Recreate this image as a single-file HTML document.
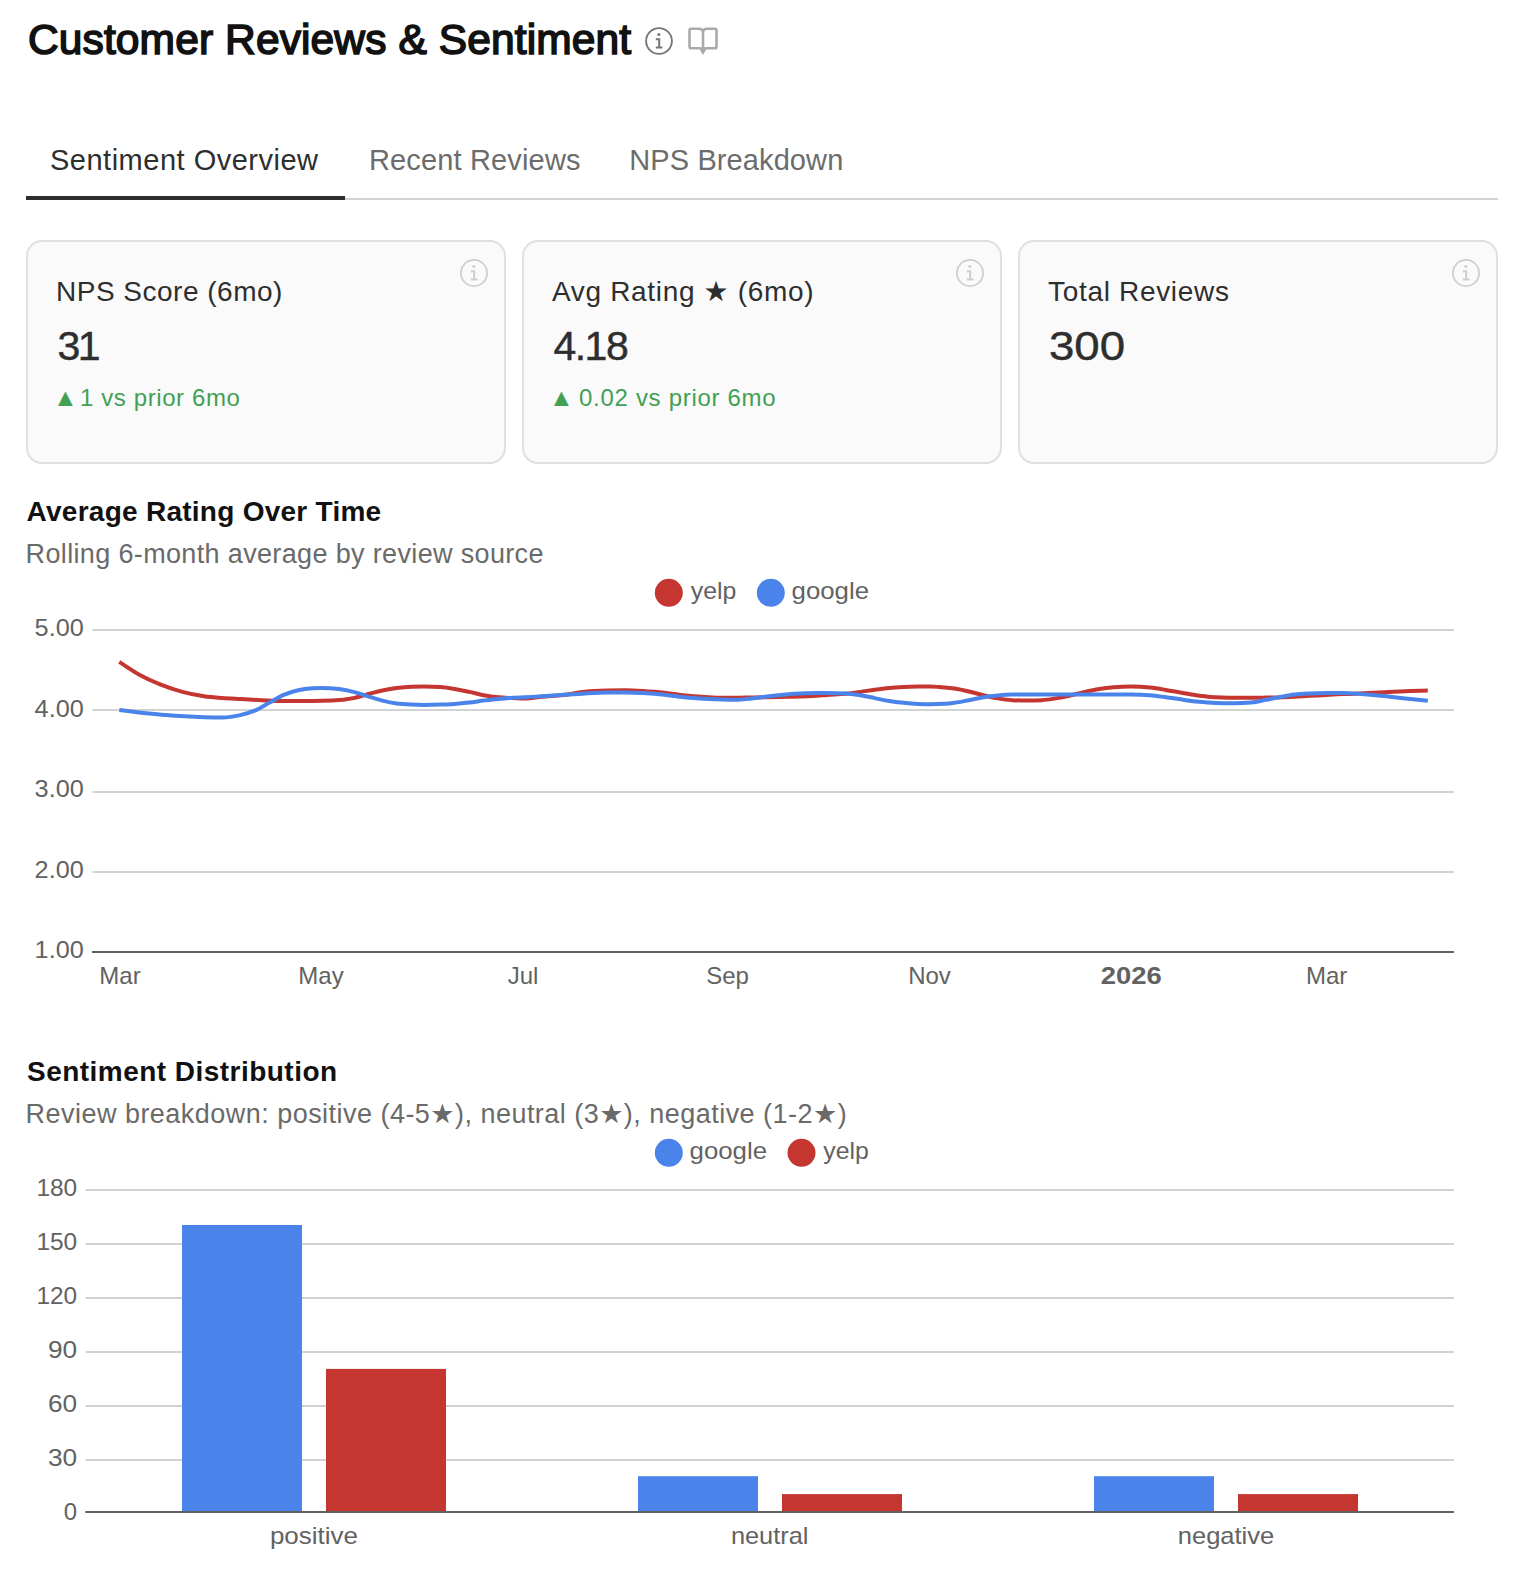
<!DOCTYPE html>
<html lang="en"><head><meta charset="utf-8"><title>Customer Reviews &amp; Sentiment</title>
<style>
html,body{margin:0;padding:0;background:#fff;}
body{width:1520px;height:1572px;position:relative;overflow:hidden;font-family:"Liberation Sans","DejaVu Sans",sans-serif;color:#2e2e2e;}
.abs{position:absolute;}
.t{position:absolute;white-space:nowrap;line-height:1;}
h1{position:absolute;margin:0;left:28px;top:19px;font-size:42.5px;line-height:1;font-weight:400;color:#111;white-space:nowrap;letter-spacing:0.12px;-webkit-text-stroke:1.6px #111;}
.tabs{position:absolute;left:26px;top:120px;width:1472px;height:78px;border-bottom:2px solid #d2d2d2;}
.tab{position:absolute;top:0;height:80px;font-size:29px;line-height:80px;color:#6c6c6c;white-space:nowrap;}
.tab.on{color:#2e2e2e;}
.tabs .ul{position:absolute;left:0;width:319px;top:76px;height:4px;background:#2e2e2e;}
.card{position:absolute;top:240px;width:476px;height:220px;border:2px solid #e0e0e0;border-radius:16px;background:#fafafa;}
.card .lbl{position:absolute;left:28px;top:36px;font-size:28px;line-height:1;white-space:nowrap;color:#2e2e2e;}
.card .val{transform-origin:0 0;-webkit-text-stroke:0.45px #2e2e2e;position:absolute;left:29.4px;top:84px;font-size:41px;line-height:1;white-space:nowrap;color:#2e2e2e;}
.card .delta{position:absolute;left:30px;top:144px;font-size:24px;line-height:1;white-space:nowrap;color:#42a055;}
.card .tri{position:absolute;left:25px;top:143px;font-size:25px;line-height:1;color:#42a055;}
h2{position:absolute;margin:0;left:27px;font-size:28px;line-height:1;font-weight:700;color:#111;white-space:nowrap;}
.sub{position:absolute;left:27px;font-size:27px;line-height:1;color:#6a6a6a;white-space:nowrap;}
text.ax{font-family:"Liberation Sans","DejaVu Sans",sans-serif;font-size:24px;fill:#626262;}
text.b{font-weight:700;}
text.lc{font-size:24px;}
</style></head><body>
<h1>Customer Reviews &amp; Sentiment</h1>
<svg class="abs" style="left:645px;top:27px" width="28" height="28" viewBox="0 0 28 28" fill="none" stroke="#777" stroke-width="1.9"><circle cx="14" cy="14" r="12.9"/><path d="M10.8 12.2h3.4v8.2M10.8 20.4h6.6" stroke-width="2"/><circle cx="13.9" cy="7.6" r="1.5" fill="#777" stroke="none"/></svg>
<svg class="abs" style="left:686px;top:25px" width="34" height="32" viewBox="0 0 34 32" fill="none" stroke="#aaa" stroke-width="2.6" stroke-linejoin="round"><path d="M17 6.400C16.400 4.700 15 3.800 13 3.800H5Q3.500 3.800 3.500 5.300V21.700Q3.500 23.200 5 23.200H13.500C15 23.200 16.400 23.800 17 25.400C17.600 23.800 19 23.200 20.500 23.200H29Q30.500 23.200 30.500 21.700V5.300Q30.500 3.800 29 3.800H21C19 3.800 17.600 4.700 17 6.400ZM17 6.400V25.400"/><path d="M13.700 24.600L17 30L20.300 24.600Z" fill="#aaa" stroke="none"/></svg>
<div class="tabs">
<div class="tab on" style="left:24px;letter-spacing:.5px">Sentiment Overview</div>
<div class="tab" style="left:343px;letter-spacing:.15px">Recent Reviews</div>
<div class="tab" style="left:603.3px;letter-spacing:.1px">NPS Breakdown</div>
<div class="ul"></div>
</div>
<div class="card" style="left:26px"><div class="lbl" style="letter-spacing:0.5px">NPS Score (6mo)</div><div class="val" style="letter-spacing:-2.4px;transform:scaleX(1)">31</div><div class="tri">&#9650;</div><div class="delta" style="letter-spacing:0.6px;left:52px">1 vs prior 6mo</div><svg class="abs" style="left:432px;top:17px" width="28" height="28" viewBox="0 0 28 28" fill="none" stroke="#cdcdcd" stroke-width="1.7"><circle cx="14" cy="14" r="13.1"/><path d="M10.8 12.2h3.4v8.2M10.8 20.4h6.6" stroke-width="2"/><circle cx="13.9" cy="7.6" r="1.5" fill="#cdcdcd" stroke="none"/></svg></div>
<div class="card" style="left:522px"><div class="lbl" style="letter-spacing:0.67px">Avg Rating &#9733; (6mo)</div><div class="val" style="letter-spacing:-1.5px;transform:scaleX(1)">4.18</div><div class="tri">&#9650;</div><div class="delta" style="letter-spacing:0.7px;left:55px">0.02 vs prior 6mo</div><svg class="abs" style="left:432px;top:17px" width="28" height="28" viewBox="0 0 28 28" fill="none" stroke="#cdcdcd" stroke-width="1.7"><circle cx="14" cy="14" r="13.1"/><path d="M10.8 12.2h3.4v8.2M10.8 20.4h6.6" stroke-width="2"/><circle cx="13.9" cy="7.6" r="1.5" fill="#cdcdcd" stroke="none"/></svg></div>
<div class="card" style="left:1018px"><div class="lbl" style="letter-spacing:0.68px">Total Reviews</div><div class="val" style="letter-spacing:0px;transform:scaleX(1.112)">300</div><svg class="abs" style="left:432px;top:17px" width="28" height="28" viewBox="0 0 28 28" fill="none" stroke="#cdcdcd" stroke-width="1.7"><circle cx="14" cy="14" r="13.1"/><path d="M10.8 12.2h3.4v8.2M10.8 20.4h6.6" stroke-width="2"/><circle cx="13.9" cy="7.6" r="1.5" fill="#cdcdcd" stroke="none"/></svg></div>
<h2 style="top:498px;left:26.6px;letter-spacing:.26px">Average Rating Over Time</h2>
<div class="sub" style="top:540.8px;left:25.6px;letter-spacing:.35px">Rolling 6-month average by review source</div>
<svg class="abs" style="left:0;top:570px" width="1520" height="450" viewBox="0 570 1520 450">
<rect x="92.5" y="629.0" width="1361.5" height="2" fill="#d2d2d2"/>
<rect x="92.5" y="709.0" width="1361.5" height="2" fill="#d2d2d2"/>
<rect x="92.5" y="791.0" width="1361.5" height="2" fill="#d2d2d2"/>
<rect x="92.5" y="871.0" width="1361.5" height="2" fill="#d2d2d2"/>
<rect x="92" y="951" width="1362" height="2" fill="#616161"/>
<text class="ax" x="83.8" y="636.3" text-anchor="end" textLength="49.2" lengthAdjust="spacingAndGlyphs">5.00</text>
<text class="ax" x="83.8" y="716.8" text-anchor="end" textLength="49.2" lengthAdjust="spacingAndGlyphs">4.00</text>
<text class="ax" x="83.8" y="797.3" text-anchor="end" textLength="49.2" lengthAdjust="spacingAndGlyphs">3.00</text>
<text class="ax" x="83.8" y="877.8" text-anchor="end" textLength="49.2" lengthAdjust="spacingAndGlyphs">2.00</text>
<text class="ax" x="83.8" y="958.3" text-anchor="end" textLength="49.2" lengthAdjust="spacingAndGlyphs">1.00</text>
<text class="ax" x="120.0" y="983.8" text-anchor="middle">Mar</text>
<text class="ax" x="321.0" y="983.8" text-anchor="middle">May</text>
<text class="ax" x="523.0" y="983.8" text-anchor="middle">Jul</text>
<text class="ax" x="727.5" y="983.8" text-anchor="middle">Sep</text>
<text class="ax" x="929.5" y="983.8" text-anchor="middle">Nov</text>
<text class="ax b" x="1131.3" y="983.8" text-anchor="middle" textLength="61" lengthAdjust="spacingAndGlyphs">2026</text>
<text class="ax" x="1326.7" y="983.8" text-anchor="middle">Mar</text>
<path d="M119.30,661.90C125.83,666.37,132.37,670.84,138.90,674.50C146.17,678.57,153.43,681.80,160.70,684.70C167.93,687.59,175.17,689.97,182.40,691.90C189.63,693.83,196.87,695.24,204.10,696.30C210.20,697.19,216.30,697.63,222.40,698.10C228.37,698.56,234.33,698.78,240.30,699.10C247.53,699.49,254.77,699.88,262.00,700.20C269.23,700.52,276.47,701.00,283.70,701.00C293.33,701.00,302.97,701.00,312.60,701.00C318.97,701.00,325.33,700.87,331.70,700.60C338.93,700.30,346.17,699.63,353.40,698.10C358.23,697.08,363.07,695.37,367.90,694.10C372.73,692.83,377.57,691.52,382.40,690.50C387.20,689.49,392.00,688.62,396.80,688.00C401.63,687.38,406.47,686.95,411.30,686.80C415.63,686.67,419.97,686.60,424.30,686.60C429.63,686.60,434.97,686.77,440.30,687.10C445.10,687.40,449.90,688.20,454.70,689.00C459.53,689.80,464.37,690.87,469.20,691.90C474.03,692.93,478.87,694.30,483.70,695.20C488.53,696.10,493.37,696.82,498.20,697.30C503.00,697.78,507.80,697.87,512.60,698.10C516.73,698.30,520.87,698.60,525.00,698.60C530.57,698.60,536.13,697.34,541.70,696.80C548.93,696.10,556.17,695.83,563.40,695.00C570.63,694.17,577.87,692.53,585.10,691.80C592.33,691.07,599.57,690.83,606.80,690.60C613.03,690.40,619.27,690.30,625.50,690.30C631.33,690.30,637.17,690.65,643.00,691.00C650.23,691.43,657.47,691.96,664.70,692.80C669.53,693.36,674.37,694.23,679.20,694.80C684.03,695.37,688.87,695.80,693.70,696.20C698.53,696.60,703.37,696.95,708.20,697.20C713.00,697.45,717.80,697.70,722.60,697.70C726.73,697.70,730.87,697.70,735.00,697.70C740.57,697.70,746.13,697.50,751.70,697.40C763.77,697.19,775.83,697.14,787.90,696.80C797.53,696.53,807.17,696.35,816.80,695.70C820.20,695.47,823.60,695.14,827.00,694.90C833.27,694.45,839.53,694.42,845.80,693.80C850.63,693.32,855.47,692.59,860.30,691.90C865.10,691.22,869.90,690.35,874.70,689.70C879.53,689.05,884.37,688.43,889.20,688.00C894.03,687.57,898.87,687.33,903.70,687.10C908.53,686.87,913.37,686.72,918.20,686.60C922.03,686.50,925.87,686.40,929.70,686.40C933.13,686.40,936.57,686.82,940.00,687.10C944.83,687.50,949.67,687.86,954.50,688.60C959.30,689.33,964.10,690.40,968.90,691.50C973.73,692.60,978.57,694.05,983.40,695.20C988.23,696.35,993.07,697.57,997.90,698.40C1002.73,699.23,1007.57,699.96,1012.40,700.20C1017.80,700.47,1023.20,700.60,1028.60,700.60C1032.83,700.60,1037.07,700.47,1041.30,700.20C1046.13,699.90,1050.97,699.18,1055.80,698.40C1060.63,697.62,1065.47,696.59,1070.30,695.50C1075.10,694.42,1079.90,692.98,1084.70,691.90C1089.53,690.81,1094.37,689.77,1099.20,689.00C1104.03,688.23,1108.87,687.69,1113.70,687.30C1119.47,686.83,1125.23,686.60,1131.00,686.60C1137.30,686.60,1143.60,686.94,1149.90,687.60C1154.77,688.11,1159.63,688.91,1164.50,689.70C1169.30,690.48,1174.10,691.45,1178.90,692.30C1183.73,693.15,1188.57,694.07,1193.40,694.80C1198.23,695.53,1203.07,696.23,1207.90,696.70C1212.73,697.17,1217.57,697.42,1222.40,697.60C1226.07,697.73,1229.73,697.80,1233.40,697.80C1239.37,697.80,1245.33,697.80,1251.30,697.80C1256.13,697.80,1260.97,697.69,1265.80,697.60C1275.43,697.41,1285.07,697.20,1294.70,696.70C1299.53,696.45,1304.37,696.07,1309.20,695.80C1314.77,695.49,1320.33,695.29,1325.90,695.00C1331.30,694.72,1336.70,694.36,1342.10,694.10C1349.13,693.76,1356.17,693.60,1363.20,693.30C1370.20,693.00,1377.20,692.65,1384.20,692.30C1391.23,691.95,1398.27,691.50,1405.30,691.20C1412.80,690.89,1420.30,690.69,1427.80,690.50" fill="none" stroke="#c53631" stroke-width="4"/>
<path d="M119.30,710.00C128.27,711.13,137.23,712.26,146.20,713.20C155.83,714.21,165.47,715.13,175.10,715.80C184.77,716.47,194.43,716.92,204.10,717.20C210.20,717.38,216.30,717.50,222.40,717.50C228.37,717.50,234.33,716.47,240.30,715.10C245.10,714.00,249.90,712.74,254.70,710.70C259.53,708.65,264.37,705.45,269.20,702.80C274.03,700.15,278.87,696.90,283.70,694.80C288.53,692.70,293.37,691.28,298.20,690.20C303.00,689.12,307.80,688.62,312.60,688.30C315.60,688.10,318.60,688.00,321.60,688.00C327.37,688.00,333.13,688.33,338.90,689.00C343.73,689.56,348.57,690.68,353.40,691.90C358.23,693.12,363.07,694.85,367.90,696.30C372.73,697.75,377.57,699.40,382.40,700.60C387.20,701.79,392.00,702.83,396.80,703.50C401.63,704.17,406.47,704.38,411.30,704.60C415.63,704.80,419.97,704.90,424.30,704.90C429.63,704.90,434.97,704.78,440.30,704.60C445.10,704.43,449.90,704.25,454.70,703.90C459.53,703.55,464.37,703.05,469.20,702.50C474.03,701.95,478.87,701.20,483.70,700.60C488.53,700.00,493.37,699.38,498.20,698.90C503.00,698.42,507.80,697.99,512.60,697.70C516.73,697.45,520.87,697.39,525.00,697.20C530.57,696.94,536.13,696.64,541.70,696.30C548.93,695.86,556.17,695.28,563.40,694.80C570.63,694.32,577.87,693.77,585.10,693.40C592.33,693.03,599.57,692.60,606.80,692.60C613.03,692.60,619.27,692.60,625.50,692.60C631.33,692.60,637.17,692.80,643.00,693.10C650.23,693.47,657.47,694.00,664.70,694.80C669.53,695.33,674.37,696.15,679.20,696.70C684.03,697.25,688.87,697.72,693.70,698.10C698.53,698.48,703.37,698.75,708.20,699.00C713.00,699.25,717.80,699.47,722.60,699.60C726.73,699.72,730.87,699.80,735.00,699.80C740.57,699.80,746.13,698.95,751.70,698.40C758.93,697.68,766.17,696.57,773.40,695.80C780.63,695.03,787.87,694.25,795.10,693.80C802.33,693.35,809.57,693.10,816.80,693.10C820.20,693.10,823.60,693.10,827.00,693.10C833.27,693.10,839.53,693.20,845.80,693.40C850.63,693.55,855.47,694.41,860.30,695.20C865.10,695.98,869.90,697.14,874.70,698.10C879.53,699.07,884.37,700.22,889.20,701.00C894.03,701.78,898.87,702.32,903.70,702.80C908.53,703.28,913.37,703.67,918.20,703.90C922.03,704.08,925.87,704.20,929.70,704.20C934.80,704.20,939.90,704.07,945.00,703.80C948.17,703.63,951.33,703.23,954.50,702.80C959.30,702.15,964.10,701.11,968.90,700.20C973.73,699.28,978.57,698.08,983.40,697.30C988.23,696.52,993.07,695.97,997.90,695.50C1002.73,695.03,1007.57,694.56,1012.40,694.50C1017.80,694.43,1023.20,694.40,1028.60,694.40C1037.67,694.40,1046.73,694.40,1055.80,694.40C1065.43,694.40,1075.07,694.40,1084.70,694.40C1094.37,694.40,1104.03,694.40,1113.70,694.40C1119.47,694.40,1125.23,694.40,1131.00,694.40C1137.30,694.40,1143.60,694.67,1149.90,695.20C1154.77,695.61,1159.63,696.34,1164.50,697.00C1169.30,697.65,1174.10,698.39,1178.90,699.10C1183.73,699.82,1188.57,700.73,1193.40,701.30C1198.23,701.87,1203.07,702.18,1207.90,702.50C1212.73,702.82,1217.57,703.11,1222.40,703.20C1226.07,703.27,1229.73,703.30,1233.40,703.30C1239.37,703.30,1245.33,703.03,1251.30,702.50C1256.13,702.07,1260.97,700.82,1265.80,699.90C1270.63,698.98,1275.47,697.90,1280.30,697.00C1285.10,696.10,1289.90,695.10,1294.70,694.50C1299.53,693.90,1304.37,693.66,1309.20,693.40C1314.77,693.10,1320.33,692.90,1325.90,692.90C1331.30,692.90,1336.70,692.90,1342.10,692.90C1349.13,692.90,1356.17,693.66,1363.20,694.20C1370.20,694.73,1377.20,695.40,1384.20,696.10C1391.23,696.80,1398.27,697.64,1405.30,698.40C1412.80,699.21,1420.30,700.00,1427.80,700.80" fill="none" stroke="#4a84ea" stroke-width="4"/>
<circle cx="668.8" cy="592.8" r="14" fill="#c53631"/>
<text class="ax lc" x="690.8" y="598.8" textLength="45.6" lengthAdjust="spacingAndGlyphs">yelp</text>
<circle cx="770.8" cy="592.8" r="14" fill="#4a84ea"/>
<text class="ax lc" x="791.6" y="598.8" textLength="77.4" lengthAdjust="spacingAndGlyphs">google</text>
</svg>
<h2 style="top:1058px;left:27px;letter-spacing:.47px">Sentiment Distribution</h2>
<div class="sub" style="top:1100.8px;left:25.6px;letter-spacing:.47px">Review breakdown: positive (4-5&#9733;), neutral (3&#9733;), negative (1-2&#9733;)</div>
<svg class="abs" style="left:0;top:1130px" width="1520" height="442" viewBox="0 1130 1520 442">
<rect x="85.7" y="1459.0" width="1368.3" height="2" fill="#d2d2d2"/>
<rect x="85.7" y="1405.0" width="1368.3" height="2" fill="#d2d2d2"/>
<rect x="85.7" y="1351.0" width="1368.3" height="2" fill="#d2d2d2"/>
<rect x="85.7" y="1297.0" width="1368.3" height="2" fill="#d2d2d2"/>
<rect x="85.7" y="1243.0" width="1368.3" height="2" fill="#d2d2d2"/>
<rect x="85.7" y="1189.0" width="1368.3" height="2" fill="#d2d2d2"/>
<rect x="182" y="1225.0" width="120" height="287.0" fill="#4a84ea"/>
<rect x="326" y="1368.9" width="120" height="143.1" fill="#c53631"/>
<rect x="638" y="1476.2" width="120" height="35.8" fill="#4a84ea"/>
<rect x="782" y="1494.1" width="120" height="17.9" fill="#c53631"/>
<rect x="1094" y="1476.2" width="120" height="35.8" fill="#4a84ea"/>
<rect x="1238" y="1494.1" width="120" height="17.9" fill="#c53631"/>
<rect x="85.2" y="1511" width="1368.8" height="2" fill="#616161"/>
<text class="ax" x="77.2" y="1519.6" text-anchor="end">0</text>
<text class="ax" x="77.2" y="1465.5" text-anchor="end" textLength="29.2" lengthAdjust="spacingAndGlyphs">30</text>
<text class="ax" x="77.2" y="1411.5" text-anchor="end" textLength="29.2" lengthAdjust="spacingAndGlyphs">60</text>
<text class="ax" x="77.2" y="1357.5" text-anchor="end" textLength="29.2" lengthAdjust="spacingAndGlyphs">90</text>
<text class="ax" x="77.2" y="1303.5" text-anchor="end" textLength="40.8" lengthAdjust="spacingAndGlyphs">120</text>
<text class="ax" x="77.2" y="1249.8" text-anchor="end" textLength="40.8" lengthAdjust="spacingAndGlyphs">150</text>
<text class="ax" x="77.2" y="1195.8" text-anchor="end" textLength="40.8" lengthAdjust="spacingAndGlyphs">180</text>
<text class="ax lc" x="313.9" y="1543.9" text-anchor="middle" textLength="88" lengthAdjust="spacingAndGlyphs">positive</text>
<text class="ax lc" x="769.7" y="1543.9" text-anchor="middle" textLength="77.6" lengthAdjust="spacingAndGlyphs">neutral</text>
<text class="ax lc" x="1226.0" y="1543.9" text-anchor="middle" textLength="96.4" lengthAdjust="spacingAndGlyphs">negative</text>
<circle cx="668.8" cy="1152.8" r="14" fill="#4a84ea"/>
<text class="ax lc" x="689.6" y="1158.8" textLength="77.4" lengthAdjust="spacingAndGlyphs">google</text>
<circle cx="801.5" cy="1152.8" r="14" fill="#c53631"/>
<text class="ax lc" x="823.3" y="1158.8" textLength="45.6" lengthAdjust="spacingAndGlyphs">yelp</text>
</svg>
</body></html>
